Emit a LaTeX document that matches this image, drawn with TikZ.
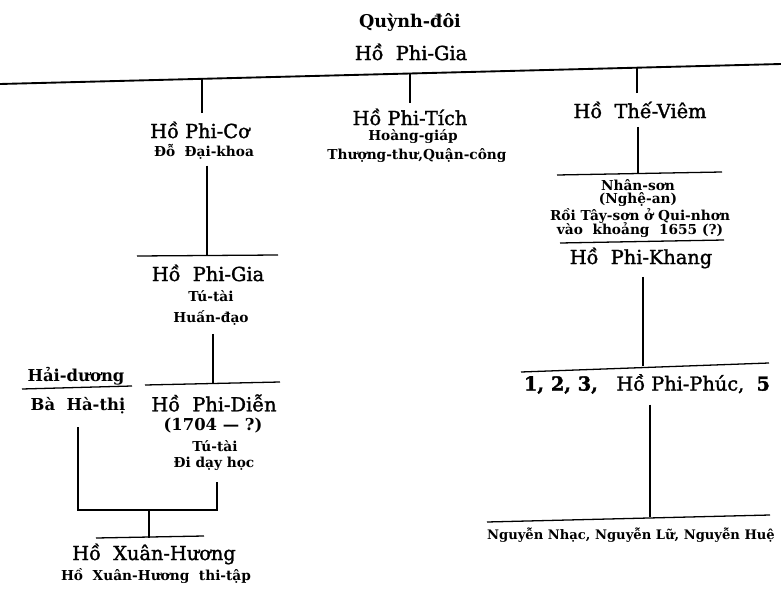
\documentclass[tikz,border=0pt]{standalone}
\usepackage{fontspec}
\setmainfont{DejaVu Serif}
\newfontfamily\namefont{DejaVu Serif}[FakeBold=1.6]
\tikzset{
  person/.style={font=\namefont\fontsize{16.5}{19}\selectfont, inner sep=1pt},
  note/.style={font=\bfseries\fontsize{11.7}{14}\selectfont, inner sep=1pt},
  place/.style={font=\bfseries\fontsize{14}{16}\selectfont, inner sep=1pt},
  bar/.style={line width=1.1pt},
  link/.style={line width=0.9pt},
}

\begin{document}
\begin{tikzpicture}[x=0.03cm,y=-0.03cm]
  \useasboundingbox (0,0) rectangle (781,592);
  % Root
  \node[place, font=\bfseries\fontsize{15}{17}\selectfont] (root) at (410,22) {Quỳnh-đôi};
  \node[person] (hpg) at (411,52) {Hồ\ \ Phi-Gia};
  \draw[bar, line width=1.6pt] (0,84) coordinate (topL) -- (781,64) coordinate (topR);
  \coordinate (t1) at (202,78.8);
  \coordinate (t2) at (410,73.5);
  \coordinate (t3) at (637,67.7);
  % Left branch
  \node[person] (phico) at (200,130) {Hồ Phi-Cơ};
  \node[note] (dokhoa) at (204,152) {Đỗ\ \ Đại-khoa};
  \draw[link, shorten <=6pt] (phico.north -| t1) -- (t1);
  \draw[bar] (137,256) coordinate (b2L) -- (278,255);
  \draw[link, shorten <=4pt] (dokhoa.south -| 207,0) -- (207,255.5);
  \node[person] (phigia) at (208,273) {Hồ\ \ Phi-Gia};
  \node[note] (tutai) at (211,296) {Tú-tài};
  \node[note] (huandao) at (211,318) {Huấn-đạo};
  \draw[bar] (145,385) coordinate (b3L) -- (280,382);
  \draw[link, shorten <=6pt] (huandao.south -| 213,0) -- (213,383.5);
  \node[person] (dien) at (214,403) {Hồ\ \ Phi-Diễn};
  \node[place] (year) at (213,426) {(1704 — ?)};
  \node[note] (tutaib) at (215,446) {Tú-tài};
  \node[note] (diday) at (214,464) {Đi dạy học};
  % Mother
  \node[place] (haiduong) at (76,376) {Hải-dương};
  \draw[bar] (22,389) -- (132,386);
  \node[place] (baha) at (78,406) {Bà\ \ Hà-thị};
  \coordinate (join) at (149,510);
  \draw[link, shorten <=10pt, shorten >=8pt] (baha.south) |- (join) -| (diday.south -| 217,0);
  \draw[bar] (96,538) coordinate (b5L) -- (204,536);
  \draw[link] (join) -- (join |- b5L);
  \node[person] (xuanhuong) at (154,554) {Hồ\ \ Xuân-Hương};
  \node[note] (thitap) at (156,576) {Hồ\ \ Xuân-Hương\ \ thi-tập};
  % Middle branch
  \node[person] (phitich) at (410,117) {Hồ Phi-Tích};
  \node[note] (hoanggiap) at (413,137) {Hoàng-giáp};
  \node[note] (thuongthu) at (417,156) {Thượng-thư,Quận-công};
  \draw[link, shorten <=4pt] (phitich.north -| t2) -- (t2);
  % Right branch
  \node[person] (theviem) at (640,110) {Hồ\ \ Thế-Viêm};
  \draw[link, shorten <=6pt] (theviem.north -| t3) -- (t3);
  \draw[bar] (557,175) coordinate (b6L) -- (722,172);
  \draw[link, shorten <=6pt] (theviem.south -| 638,0) -- (638,173.5);
  \node[note] (nhanson) at (638,185) {Nhân-sơn};
  \node[note] (nghean) at (638,200) {(Nghệ-an)};
  \node[note] (tayson) at (640,216) {Rồi Tây-sơn ở Qui-nhơn};
  \node[note] (khoang) at (640,230) {vào\ \ khoảng\ \ 1655 (?)};
  \draw[bar] (560,243) -- (724,240);
  \node[person] (phikhang) at (641,258) {Hồ\ \ Phi-Khang};
  \draw[bar] (521,372) coordinate (b8L) -- (769,363);
  \draw[link, shorten <=6pt] (phikhang.south -| 643,0) -- (643,366);
  \node[person] (phuc) at (647,384) {{\bfseries 1,\ 2,\ 3,}\ \ \ Hồ Phi-Phúc,\ \ {\bfseries 5}};
  \draw[bar] (487,522) coordinate (b9L) -- (770,515);
  \draw[link, shorten <=8pt] (phuc.south -| 650,0) -- (650,517);
  \node[note, font=\bfseries\fontsize{11.2}{13}\selectfont] (tayson3) at (631,535) {Nguyễn Nhạc, Nguyễn Lữ, Nguyễn Huệ};
\end{tikzpicture}
\end{document}
